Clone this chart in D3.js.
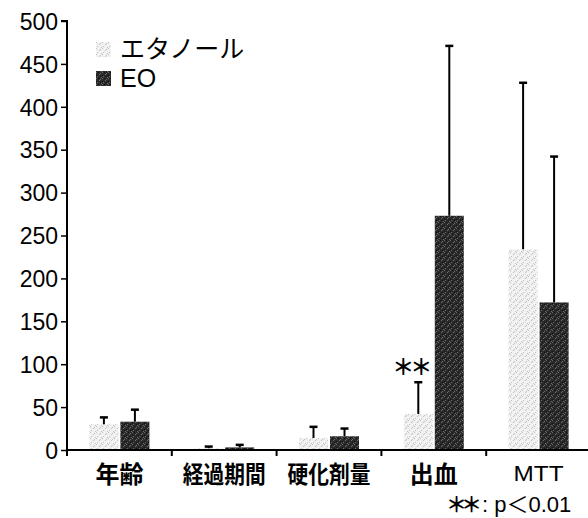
<!DOCTYPE html>
<html><head><meta charset="utf-8">
<script src="https://cdn.jsdelivr.net/npm/d3@7"></script>
<style>
html,body{margin:0;padding:0;background:#fff;}
svg{display:block;}
text{font-family:"Liberation Sans","Noto Sans CJK JP",Arial,sans-serif;fill:#000;}
</style></head><body>
<script>
const categories = ["年齢","経過期間","硬化剤量","出血","MTT"];
const seriesNames = ["エタノール","EO"];
const ethanolMean = [30, 2, 14, 42, 234];
const ethanolSD   = [8, 2, 13, 37, 194];
const eoMean      = [33, 3, 16, 273, 172];
const eoSD        = [14, 3, 9, 198, 170];
const yTicks = [0,50,100,150,200,250,300,350,400,450,500];

const W = 588, H = 518;
const svg = d3.select("body").append("svg").attr("width", W).attr("height", H);
const defs = svg.append("defs");

function stipple(id, base, dot, dot2){
  const p = defs.append("pattern").attr("id", id).attr("width", 6).attr("height", 6)
    .attr("patternUnits", "userSpaceOnUse");
  p.append("rect").attr("width", 6).attr("height", 6).attr("fill", base);
  [[0,0],[3,2],[1,4],[5,5],[4,1]].forEach(([x,y])=>p.append("rect").attr("x",x).attr("y",y).attr("width",1).attr("height",1).attr("fill",dot));
  [[2,0],[0,3],[4,4]].forEach(([x,y])=>p.append("rect").attr("x",x).attr("y",y).attr("width",1).attr("height",1).attr("fill",dot2));
}
stipple("pEth", "#efefef", "#c4c4c4", "#ffffff");
stipple("pEO", "#2a2a2a", "#6a6a6a", "#111111");

const x0 = 67, x1 = 591, yBase = 450, yTop = 21;
const x = d3.scaleBand().domain(categories).range([x0, x1]).padding(0);
const y = d3.scaleLinear().domain([0, 500]).range([yBase, yTop]);
const bw = 29, gap = 2;

const data = categories.map((c,i)=>({c, vals:[
  {s:0, m:ethanolMean[i], sd:ethanolSD[i]},
  {s:1, m:eoMean[i], sd:eoSD[i]}
]}));

// bars
const g = svg.append("g");
data.forEach(d=>{
  const cx = x(d.c) + x.bandwidth()/2 - (2*bw+gap)/2;
  d.vals.forEach(v=>{
    const bx = cx + (v.s===0 ? 0 : bw+gap);
    g.append("rect").attr("x", bx).attr("y", y(v.m)).attr("width", bw)
      .attr("height", y(0)-y(v.m)).attr("fill", v.s===0 ? "url(#pEth)" : "url(#pEO)");
    const ex = bx + bw/2;
    g.append("line").attr("x1", ex).attr("x2", ex).attr("y1", y(v.m)).attr("y2", y(v.m+v.sd))
      .attr("stroke", "#000").attr("stroke-width", 2);
    g.append("line").attr("x1", ex-4).attr("x2", ex+4).attr("y1", y(v.m+v.sd)).attr("y2", y(v.m+v.sd))
      .attr("stroke", "#000").attr("stroke-width", 2.5);
  });
});

// y axis
const yAxis = d3.axisLeft(y).tickValues(yTicks).tickSize(6).tickPadding(3).tickFormat(d3.format("d"));
const ya = svg.append("g").attr("transform", `translate(${x0},0)`).call(yAxis);
ya.select(".domain").attr("stroke-width", 2).attr("d", `M-6,${yTop}H0V${yBase}`);
ya.selectAll(".tick line").attr("stroke-width", 1.5);
ya.selectAll("text").attr("font-size", 23).attr("font-family", "Liberation Sans, Arial, sans-serif").attr("dy", "0.36em");

// x axis
const xa = svg.append("g").attr("transform", `translate(0,${yBase})`);
xa.append("line").attr("x1", x0).attr("x2", x1).attr("y1", 0).attr("y2", 0).attr("stroke", "#000").attr("stroke-width", 2);
const bounds = categories.map(c=>x(c)).concat([x1]);
bounds.forEach(b=>{
  xa.append("line").attr("x1", b).attr("x2", b).attr("y1", 0).attr("y2", 6).attr("stroke", "#000").attr("stroke-width", 2);
});
categories.forEach(c=>{
  const isLatin = c==="MTT";
  const t = xa.append("text").attr("x", x(c)+x.bandwidth()/2).attr("y", isLatin ? 31 : 33).attr("text-anchor", "middle")
    .attr("font-size", isLatin ? 22 : 24)
    .attr("font-family", isLatin ? "Liberation Sans, Arial, sans-serif" : "Noto Sans CJK JP, sans-serif")
    .attr("font-weight", isLatin ? "normal" : "bold").text(c);
  if (c.length === 4) t.attr("textLength", 83).attr("lengthAdjust", "spacingAndGlyphs");
  if (isLatin) t.attr("textLength", 50).attr("lengthAdjust", "spacingAndGlyphs");
});

// significance
svg.append("text").attr("x", x("出血")+x.bandwidth()/2 - (bw+gap)/2 - 8).attr("y", 375).attr("text-anchor", "middle")
  .attr("font-size", 22).attr("font-weight", "bold").attr("letter-spacing", -4).attr("font-family", "Noto Sans CJK JP, sans-serif").text("＊＊");
const note = svg.append("text").attr("x", 446).attr("y", 512).attr("font-size", 22)
  .attr("font-family", "Liberation Sans, Noto Sans CJK JP, sans-serif");
note.append("tspan").attr("font-family", "Noto Sans CJK JP, sans-serif").attr("font-weight", "bold").attr("font-size", 21).attr("letter-spacing", -6).text("＊＊");
note.append("tspan").attr("dx", 6).text(": p");
note.append("tspan").attr("font-family", "Noto Sans CJK JP, sans-serif").text("＜");
note.append("tspan").text("0.01");

// legend
const leg = svg.append("g");
const legY = [42, 71];
seriesNames.forEach((s,i)=>{
  leg.append("rect").attr("x", 96).attr("y", legY[i]).attr("width", 15).attr("height", 15)
    .attr("fill", i===0 ? "url(#pEth)" : "url(#pEO)");
  leg.append("text").attr("x", 120).attr("y", legY[i]+16).attr("font-size", 25)
    .attr("font-family", i===0 ? "Noto Sans CJK JP, sans-serif" : "Liberation Sans, Arial, sans-serif")
    .text(s);
});
</script>
</body></html>
